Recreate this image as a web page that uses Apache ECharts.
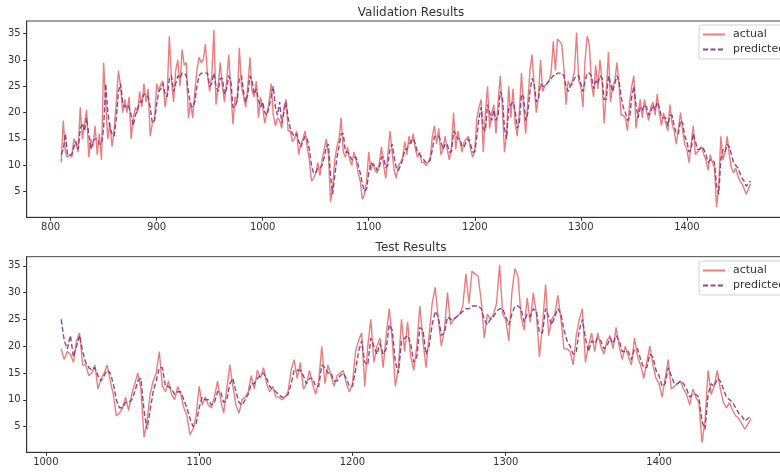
<!DOCTYPE html>
<html>
<head>
<meta charset="utf-8">
<script src="https://cdn.jsdelivr.net/npm/echarts@6/dist/echarts.min.js"></script>
<style>
html,body{margin:0;padding:0;background:#fff;overflow:hidden;}
#chart{width:790px;height:472px;}
</style>
</head>
<body>
<div id="chart"></div>
<script>
// Day index of the first value and spacing between values
const startDay = 810;
const dayStep = 2;
const testStartDay = 1010;

const actual = [
  10.5, 18.5, 12.5, 11.5, 12, 11.5, 15, 14, 12.5, 21,
  15, 18, 20.5, 11.5, 15, 13.5, 17.5, 12, 16, 11,
  29.5, 22, 15, 18, 13.5, 17, 22, 28, 25, 20,
  22.5, 20, 23, 15, 19, 21, 20, 24, 21, 25.5,
  22, 24.5, 15.5, 18, 18.5, 25.5, 24, 25.5, 26, 21,
  24, 34.5, 26, 22, 28, 30, 25, 32, 29, 29.5,
  19, 22, 19, 24, 28, 30.5, 29.5, 30, 33, 27,
  24, 27, 35.7, 21.5, 25, 29.5, 25, 22, 26, 31,
  24, 17.8, 23, 22, 32.3, 25, 23, 21, 25, 30.5,
  24, 23, 26, 19, 23, 21, 18, 20, 22, 25.5,
  19.5, 17.5, 19, 18.5, 17, 21, 22.5, 16.5, 16.5, 14.5,
  15, 16.5, 12, 14, 15, 16.5, 13.5, 11, 7, 7.5,
  8.5, 10.5, 8, 11, 13, 15, 12, 3, 6, 11,
  13.5, 15, 19, 12.5, 11.5, 13.5, 11, 10, 12.5, 11,
  8.5, 7, 3.5, 4.5, 7, 12.5, 9, 10.5, 9, 8.5,
  10.5, 13.5, 10, 7.5, 12, 16.5, 12.5, 9, 7.5, 10,
  10.5, 11.5, 14.5, 12, 15.5, 14, 16, 13, 11.5, 12.5,
  10.5, 10.5, 10, 10.5, 11.5, 15.5, 17.5, 14, 17, 12,
  13, 15.5, 13, 11, 13.5, 20, 13, 16.5, 14.5, 12.5,
  14.5, 15, 15.5, 13, 11.5, 13, 19, 21, 22.5, 12.5,
  20, 25, 17, 20, 21.5, 16, 22, 27, 21, 12.5,
  16, 25, 19, 24.5, 18, 15.5, 20, 27.5, 21, 16,
  22, 28, 31, 25, 20, 23, 30, 24, 25, 25.5,
  26, 27.5, 33.5, 28, 34, 33.5, 33, 28.5, 21.5, 26,
  25, 26, 28, 35.2, 26, 25, 21, 30, 34.5, 33,
  25.5, 23, 29, 24.5, 30, 26, 18, 24, 31.5, 22,
  25, 26, 29.5, 25, 19.5, 19.5, 19, 16.5, 22, 25,
  27, 17, 20, 22.5, 19, 22.5, 20, 18.5, 21, 22,
  19.5, 23.5, 20, 17.5, 20, 18, 16.5, 21.5, 18, 16.5,
  14, 17, 20, 16.5, 14, 13, 10.5, 14, 17.5, 12,
  12.5, 13, 13.5, 12, 11, 9, 12, 10.5, 9.5, 2,
  6, 15.5, 11, 12.5, 15.5, 12, 9.5, 8.5, 9.5, 8,
  7, 6.5, 5.5, 4.5, 5.5, 6.5
];

const predicted = [
  12, 13, 16, 12, 12, 12, 13.5, 14.5, 13, 17,
  18, 16.5, 19, 16, 13, 14.5, 15, 15, 14, 14,
  17, 25.5, 20, 17, 16, 15.5, 19, 24, 25.5, 22,
  21, 21.5, 21, 19.5, 17.5, 19.5, 20.5, 22, 22, 23.5,
  23.5, 23, 21, 18, 18.5, 21.5, 24, 24.5, 25.5, 23.5,
  23, 26.5, 27, 24, 25.5, 27, 26.5, 27.5, 27.5, 27,
  24, 21.5, 21, 22, 25, 27, 27.5, 27.5, 27.5, 27.5,
  25, 25.5, 27.5, 25, 24, 26.5, 26.5, 23.5, 24.5, 27,
  26, 21, 21, 22.5, 26.5, 27, 24, 22, 23.5, 27,
  26, 23.5, 24.5, 22.5, 21, 22, 20, 19.5, 21, 23,
  25, 21, 19.5, 22, 18, 20, 22, 19, 17, 16,
  15.5, 16, 14.5, 13.5, 14.5, 15.5, 15, 13, 10, 8.5,
  8.5, 9.5, 9.5, 10, 11.5, 13.5, 14, 8, 4.5, 8,
  11.5, 13.5, 16, 16, 12.5, 12.5, 12, 11, 11.5, 11.5,
  10, 8.5, 6.5, 5, 5.5, 8.5, 10.5, 10, 10, 9,
  9.5, 11.5, 11.5, 9.5, 10, 13, 14, 11.5, 9.5, 9,
  10, 11, 13, 13, 14, 14.5, 15, 14, 12.5, 12,
  11.5, 11, 10.5, 10.5, 11, 13, 15.5, 15.5, 15.5, 14.5,
  13, 14, 14, 12.5, 12.5, 16.5, 16, 15, 15, 13.5,
  13.5, 14.5, 15, 14, 12.5, 12.5, 15.5, 19, 21, 17,
  16.5, 21.5, 20, 18.5, 20.5, 18.5, 19.5, 24, 23, 17,
  15, 21, 21.5, 22, 20.5, 17, 18, 23.5, 23, 18.5,
  20, 24, 26.5, 25.5, 22, 22.5, 25.5, 25, 25, 25.5,
  26, 26.5, 27, 27, 27.5, 27.5, 27.5, 27, 25, 24,
  25, 25.5, 26.5, 27, 27, 25.5, 24, 26, 27.5, 27.5,
  27, 24.5, 26, 25.5, 27, 26.5, 22.5, 22.5, 27, 25.5,
  24, 25.5, 27, 26, 23, 21, 20, 18.5, 19, 23,
  25, 21.5, 19, 21, 20.5, 21.5, 21, 19.5, 20, 21.5,
  20.5, 22, 21, 19, 19, 19, 17.5, 19.5, 19.5, 17.5,
  16, 16, 18.5, 18, 15.5, 14.5, 12.5, 13, 16, 14.5,
  13, 13, 13.5, 13, 12, 10.5, 11, 11, 10.5, 6,
  4.5, 11, 13, 12.5, 14, 13.5, 12, 10.5, 10, 9.5,
  8.5, 7.5, 7, 6, 6.5, 7
];

const valXTicks = [800, 900, 1000, 1100, 1200, 1300, 1400];
const testXTicks = [1000, 1100, 1200, 1300, 1400];
const yTicks = [5, 10, 15, 20, 25, 30, 35];
const titles = ['Validation Results', 'Test Results'];
const seriesNames = ['actual', 'predicted'];

const actualColor = '#e8706e';
const predColor = '#8c3c80';

function pairs(arr, fromDay) {
  const out = [];
  arr.forEach((v, i) => {
    const d = startDay + i * dayStep;
    if (d >= fromDay) out.push([d, v]);
  });
  return out;
}

const tickLabel = { color: '#333', fontSize: 10, fontFamily: 'DejaVu Sans', formatter: v => String(v) };

function xAxis(idx, min, max, ticks) {
  return {
    type: 'value', gridIndex: idx, min: min, max: max,
    splitLine: { show: false },
    axisLine: { show: true, onZero: false, lineStyle: { color: '#333', width: 1 } },
    axisTick: { show: true, length: 3.5, customValues: ticks, lineStyle: { color: '#333' } },
    axisLabel: Object.assign({ customValues: ticks, margin: 5 }, tickLabel)
  };
}
function yAxis(idx, min, max) {
  return {
    type: 'value', gridIndex: idx, min: min, max: max,
    splitLine: { show: false },
    axisLine: { show: true, lineStyle: { color: '#333', width: 1 } },
    axisTick: { show: true, length: 3.5, customValues: yTicks, lineStyle: { color: '#333' } },
    axisLabel: Object.assign({ customValues: yTicks, margin: 6 }, tickLabel)
  };
}

function legend(top) {
  return {
    orient: 'vertical', left: 699, top: top,
    data: seriesNames.map(n => n),
    itemWidth: 22, itemHeight: 10, itemGap: 4,
    padding: [4, 5, 4, 3],
    borderColor: '#d0d0d0', borderWidth: 1, borderRadius: 3,
    backgroundColor: 'rgba(255,255,255,0.85)',
    itemStyle: { opacity: 0, color: 'transparent', borderWidth: 0 },
    textStyle: { color: '#333', fontSize: 11, fontFamily: 'DejaVu Sans', padding: [0, 0, 0, 3] },
    formatter: n => n
  };
}

function lineSeries(name, data, xi, color, dashed) {
  return {
    name: name, type: 'line', xAxisIndex: xi, yAxisIndex: xi,
    data: data, symbol: 'none', showSymbol: false, silent: true,
    lineStyle: { color: color, width: 1.4, type: dashed ? [5, 2.5] : 'solid', opacity: dashed ? 0.95 : 0.9 },
    itemStyle: { color: color },
    z: dashed ? 3 : 2
  };
}

const chart = echarts.init(document.getElementById('chart'), null, { renderer: 'canvas' });
chart.setOption({
  animation: false,
  backgroundColor: '#fff',
  title: [
    { text: titles[0], left: 406, top: 2, textAlign: 'center',
      textStyle: { fontSize: 12, fontWeight: 'normal', color: '#333', fontFamily: 'DejaVu Sans' } },
    { text: titles[1], left: 406, top: 237, textAlign: 'center',
      textStyle: { fontSize: 12, fontWeight: 'normal', color: '#333', fontFamily: 'DejaVu Sans' } }
  ],
  legend: [
    Object.assign(legend(25), { id: 'l0' }),
    Object.assign(legend(261), { id: 'l1' })
  ],
  grid: [
    { left: 26.7, top: 21, width: 758.3, height: 196.3, show: true, borderColor: '#444', borderWidth: 1, containLabel: false },
    { left: 26.7, top: 256.7, width: 758.8, height: 195.6, show: true, borderColor: '#444', borderWidth: 1, containLabel: false }
  ],
  xAxis: [
    xAxis(0, 777.5, 1492.5, valXTicks),
    xAxis(1, 987.5, 1482.5, testXTicks)
  ],
  yAxis: [
    yAxis(0, 0.1, 37.4),
    yAxis(1, 0.2, 36.7)
  ],
  series: [
    lineSeries(seriesNames[0], pairs(actual, startDay), 0, actualColor, false),
    lineSeries(seriesNames[1], pairs(predicted, startDay), 0, predColor, true),
    lineSeries(seriesNames[0], pairs(actual, testStartDay), 1, actualColor, false),
    lineSeries(seriesNames[1], pairs(predicted, testStartDay), 1, predColor, true)
  ]
});
</script>
</body>
</html>
